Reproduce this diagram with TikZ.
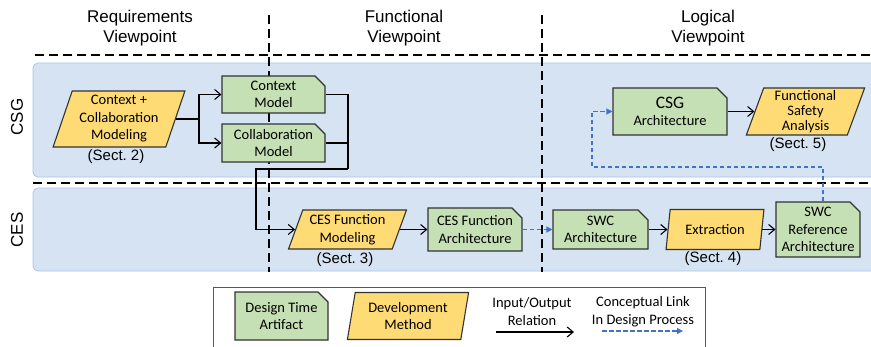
\documentclass[tikz,border=0pt]{standalone}
\usepackage{fontspec}
\setmainfont{Carlito}
\newfontfamily\headfont{Liberation Sans}
\usetikzlibrary{shapes.geometric,shapes.misc,arrows.meta}
\definecolor{bandfill}{HTML}{D6E3F3}
\definecolor{bandline}{HTML}{A9C6E6}
\definecolor{artgreen}{HTML}{C5E0B4}
\definecolor{methyellow}{HTML}{FFDB75}
\definecolor{linkblue}{HTML}{4472C4}
\definecolor{boxline}{HTML}{333333}

\begin{document}
\begin{tikzpicture}[x=1pt,y=-1pt,
  boxfont/.style={font=\fontsize{14.5}{17.5}\selectfont},
  headtext/.style={font=\headfont\fontsize{17}{20.5}\selectfont, align=center},
  secttext/.style={font=\headfont\fontsize{15}{18}\selectfont},
  artifact/.style={chamfered rectangle, chamfered rectangle corners=north east,
    chamfered rectangle xsep=5pt, chamfered rectangle ysep=5pt,
    draw=boxline, line width=1.1pt, fill=artgreen, align=center, inner sep=0pt, boxfont},
  method/.style={trapezium, trapezium left angle=72, trapezium right angle=108,
    trapezium stretches=true, draw=boxline, line width=1.1pt, fill=methyellow,
    align=center, inner sep=0pt, boxfont},
  laneband/.style={fill=bandfill, draw=bandline, line width=0.8pt, rounded corners=5pt},
  divider/.style={dash pattern=on 9pt off 5pt, line width=1.6pt},
  connline/.style={draw=black, line width=1.1pt},
  ioarrow/.style={connline, -{Straight Barb[length=6pt,width=10pt]}},
  conceptlink/.style={draw=linkblue, line width=1.2pt, dash pattern=on 4.5pt off 2.5pt,
    -{Triangle[length=6pt,width=6pt]}},
]
\clip (0,0) rectangle (871,346);

% swimlanes
\draw[laneband] (33,63) rectangle (890,177);
\draw[laneband] (33,188) rectangle (890,271);

% viewpoint and level separators
\draw[divider] (35,55) -- (871,55);
\draw[divider] (33,183) -- (871,183);
\draw[divider] (269,15) -- (269,272);
\draw[divider] (542,15) -- (542,272);

% headers
\node[headtext] (hreq) at (140,28) {Requirements\\Viewpoint};
\node[headtext] (hfun) at (404,28) {Functional\\Viewpoint};
\node[headtext] (hlog) at (708,28) {Logical\\Viewpoint};
\node[headtext, rotate=90] (lcsg) at (17,117) {CSG};
\node[headtext, rotate=90] (lces) at (17,230) {CES};

% CSG level
\node[method, trapezium left angle=71, trapezium right angle=109,
      minimum width=132pt, minimum height=56pt] (ccm) at (119,119) {Context +\\Collaboration\\Modeling};
\node[secttext] (s2) at (116,157) {(Sect.~2)};
\node[artifact, minimum width=103pt, minimum height=37pt] (ctx) at (273.5,94.5) {Context\\Model};
\node[artifact, minimum width=103pt, minimum height=38pt] (col) at (273.5,143) {Collaboration\\Model};
\node[artifact, minimum width=114pt, minimum height=47pt] (csga) at (670,111.5)
      {{\fontsize{17.5}{19}\selectfont CSG}\\Architecture};
\node[method, trapezium left angle=73, trapezium right angle=107,
      minimum width=119pt, minimum height=47pt, font=\fontsize{14.5}{14.7}\selectfont]
      (fsa) at (805.5,111.5) {Functional\\Safety\\Analysis};
\node[secttext] (s5) at (798,145) {(Sect.~5)};

% CES level
\node[method, trapezium left angle=68, trapezium right angle=112,
      minimum width=119pt, minimum height=39pt] (cesm) at (347.5,229.5) {CES Function\\Modeling};
\node[secttext] (s3) at (345,260) {(Sect.~3)};
\node[artifact, minimum width=94pt, minimum height=43pt] (cesa) at (475,229.5) {CES Function\\Architecture};
\node[artifact, minimum width=95pt, minimum height=39pt] (swca) at (600.5,229.5) {SWC\\Architecture};
\node[method, trapezium left angle=75, trapezium right angle=105,
      minimum width=98pt, minimum height=40pt] (ext) at (715,229.5) {Extraction};
\node[secttext] (s4) at (713,259) {(Sect.~4)};
\node[artifact, minimum width=84pt, minimum height=55pt] (swcr) at (818,229.5) {SWC\\Reference\\Architecture};

% connectors
\coordinate (split) at (199,119);
\draw[connline] (ccm.right side) -- (split);
\draw[ioarrow] (split) |- (ctx.west);
\draw[ioarrow] (split) |- (col.west);
\coordinate (j1) at (348,169);
\coordinate (j2) at (256,169);
\draw[connline] (ctx.east) -| (j1);
\draw[connline] (col.east) -- (col.east -| j1);
\draw[ioarrow] (j1) -- (j2) |- (cesm.left side);
\draw[ioarrow] (cesm.right side) -- (cesa.west);
\draw[conceptlink] (cesa.east) -- (swca.west);
\draw[ioarrow] (swca.east) -- (ext.left side);
\draw[ioarrow] (ext.right side) -- (swcr.west);
\coordinate (j3) at (592,167);
\draw[conceptlink] ([xshift=5pt]swcr.north) |- (j3) |- (csga.west);
\draw[ioarrow] (csga.east) -- (fsa.left side);

% legend
\draw[draw=black!65, line width=1pt, fill=white] (213,287) rectangle (705,352);
\node[artifact, minimum width=93pt, minimum height=48pt] (lart) at (281.5,316) {Design Time\\Artifact};
\node[method, trapezium left angle=78, trapezium right angle=102,
      minimum width=122pt, minimum height=47pt] (lmeth) at (408,316) {Development\\Method};
\node[boxfont, align=center] (lio) at (532,311.5) {Input/Output\\Relation};
\node[boxfont, align=center] (llink) at (643,311.5) {Conceptual Link\\In Design Process};
\coordinate (lioa) at (496,332);
\coordinate (liob) at (574,332);
\draw[ioarrow] (lioa) -- (liob);
\coordinate (llinka) at (602,331);
\coordinate (llinkb) at (683,331);
\draw[conceptlink] (llinka) -- (llinkb);
\end{tikzpicture}
\end{document}
